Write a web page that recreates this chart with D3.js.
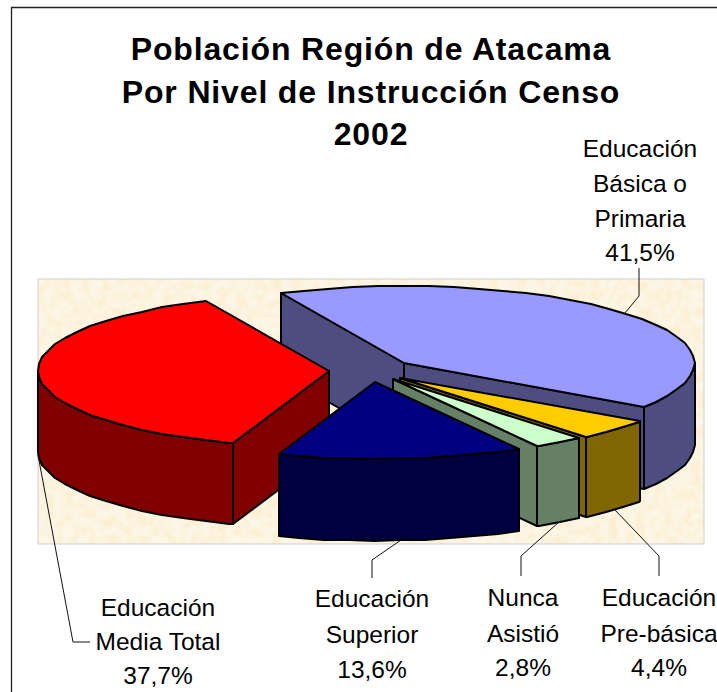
<!DOCTYPE html>
<html><head><meta charset="utf-8">
<script src="https://cdn.jsdelivr.net/npm/d3@7"></script>
<style>html,body{margin:0;padding:0;background:#fff;overflow:hidden}svg{display:block}</style>
</head><body><svg id="c" width="717" height="692"></svg>
<script>
// Data
const categories = ["Educación Básica o Primaria","Educación Pre-básica","Nunca Asistió","Educación Superior","Educación Media Total"];
const values = [41.5,4.4,2.8,13.6,37.7];
const valueLabels = ["41,5%","4,4%","2,8%","13,6%","37,7%"];
const titleLines = ["Población Región de Atacama","Por Nivel de Instrucción Censo","2002"];
// Per-slice styling and layout
const topColors = ["#9999ff","#ffcc00","#ccffcc","#000080","#ff0000"];
const wallColors = ["#4d4d80","#806600","#668066","#000040","#800000"];
const explosion = [0.16,0.15,0.145,0.14,0.135];
const nudgeX = [1,1,2,4,1];
const nudgeY = [-1,-2,-2,-1,-2];
const sliceDepth = [82,80,80,82,81];
const labelLines = [["Educación","Básica o","Primaria","41,5%"],["Educación","Pre-básica","4,4%"],["Nunca","Asistió","2,8%"],["Educación","Superior","13,6%"],["Educación","Media Total","37,7%"]];
const labelX = [640,659,523,372,158];
const labelY = [[157,192,227,261],[606,642,676],[606,642,676],[607,643,678],[616,650,684]];
const elbows = [[[639,296],[639,268]],[[659,556],[659,576]],[[521,556],[521,576]],[[372,560],[372,578]],[[73,642],[90,642]]];
const labelOnBack = [true,false,false,false,false];

const svg = d3.select("#c");
const defs = svg.append("defs");
const f = defs.append("filter").attr("id","paper").attr("x",0).attr("y",0).attr("width",1).attr("height",1);
f.append("feTurbulence").attr("type","fractalNoise").attr("baseFrequency",0.11).attr("numOctaves",4).attr("seed",4);
f.append("feColorMatrix").attr("type","matrix").attr("values","0 0 0 0 0.97  0 0 0 0 0.86  0 0 0 0 0.64  2.6 0 0 0 -0.95");
f.append("feComposite").attr("in2","SourceGraphic").attr("operator","over");

// frame and plot area
const frame = d3.line()([[11.5,692],[11.5,7.5],[717,7.5]]);
svg.append("path").attr("d",frame).attr("fill","none").attr("stroke","#222").attr("stroke-width",1.3);
const plot = {x:38,y:279,w:666,h:265};
svg.append("rect").attr("x",plot.x).attr("y",plot.y).attr("width",plot.w).attr("height",plot.h)
  .attr("fill","#fdf6e6").attr("filter","url(#paper)");
svg.append("rect").attr("x",plot.x).attr("y",plot.y).attr("width",plot.w).attr("height",plot.h)
  .attr("fill","none").attr("stroke","#cfcfcf").attr("stroke-width",1);

// Projection of the unit pie plane onto the page
const center = [367,372], rx = 291, ry = 77;
const sx = d3.scaleLinear().domain([-1,1]).range([center[0]-rx,center[0]+rx]);
const sy = d3.scaleLinear().domain([-1,1]).range([center[1]+ry,center[1]-ry]);
const startDeg = -25;
const pie = d3.pie().sort(null).startAngle(startDeg*Math.PI/180).endAngle((startDeg+360)*Math.PI/180);
const arcs = pie(values);
const line = d3.line();
function pt(arc,i,ang,down){
  const bis=(arc.startAngle+arc.endAngle)/2, e=explosion[i];
  return [Math.round(sx(e*Math.sin(bis)+Math.sin(ang))+nudgeX[i]), Math.round(sy(e*Math.cos(bis)+Math.cos(ang))+nudgeY[i])+(down||0)];
}
function apex(arc,i){
  const bis=(arc.startAngle+arc.endAngle)/2, e=explosion[i];
  return [Math.round(sx(e*Math.sin(bis))+nudgeX[i]), Math.round(sy(e*Math.cos(bis))+nudgeY[i])];
}
const stepRad = 5*Math.PI/180;
function rimAngles(arc){
  const r=[arc.startAngle];
  let a=Math.ceil(arc.startAngle/stepRad+1e-6)*stepRad;
  while(a<arc.endAngle-1e-6){r.push(a);a+=stepRad;}
  r.push(arc.endAngle);
  return r;
}
const pieG = svg.append("g").attr("stroke","#000").attr("stroke-width",2).attr("stroke-linejoin","round");
function wall(pts,color,d){
  const q=pts.concat(pts.slice().reverse().map(p=>[p[0],p[1]+d]));
  pieG.append("path").attr("d",line(q)+"Z").attr("fill",color);
}
// painter's order: back slices first
[0,4,1,2,3].forEach(i=>{
  const arc=arcs[i], rim=rimAngles(arc), d=sliceDepth[i];
  const A=apex(arc,i), P=rim.map(a=>pt(arc,i,a));
  // cut faces, only those turned to the viewer
  if(P[P.length-1][0]>A[0]) wall([P[P.length-1],A],wallColors[i],d);
  if(A[0]>P[0][0]) wall([A,P[0]],wallColors[i],d);
  // outer wall: runs of rim edges heading leftwards in clockwise order
  let run=[];
  for(let k=0;k<P.length;k++){
    const going = k<P.length-1 && P[k+1][0]<P[k][0];
    if(going){run.push(P[k]);}
    else if(run.length){run.push(P[k]);wall(run,wallColors[i],d);run=[];}
  }
  pieG.append("path").attr("d",line([A].concat(P))+"Z").attr("fill",topColors[i]);
});

// leader lines from the slice rim at the bisector
const leadG = svg.append("g").attr("fill","none").attr("stroke","#111").attr("stroke-width",1);
arcs.forEach((arc,i)=>{
  const bis=(arc.startAngle+arc.endAngle)/2;
  const s=pt(arc,i,bis,labelOnBack[i]?0:sliceDepth[i]);
  leadG.append("path").attr("d",line([s].concat(elbows[i])));
});

// text
const font="'Liberation Sans',Arial,sans-serif";
svg.append("g").selectAll("text").data(titleLines).join("text")
  .attr("x",371).attr("y",(d,i)=>60+i*42.5).attr("text-anchor","middle")
  .attr("font-family",font).attr("font-weight","bold").attr("font-size",32).attr("letter-spacing",0.85).attr("fill","#000").text(d=>d);
labelLines.forEach((lines,i)=>{
  svg.append("g").selectAll("text").data(lines).join("text")
   .attr("x",labelX[i]).attr("y",(d,k)=>labelY[i][k]).attr("text-anchor","middle")
   .attr("font-family",font).attr("font-size",24.5).attr("fill","#000").text(d=>d);
});
</script></body></html>
